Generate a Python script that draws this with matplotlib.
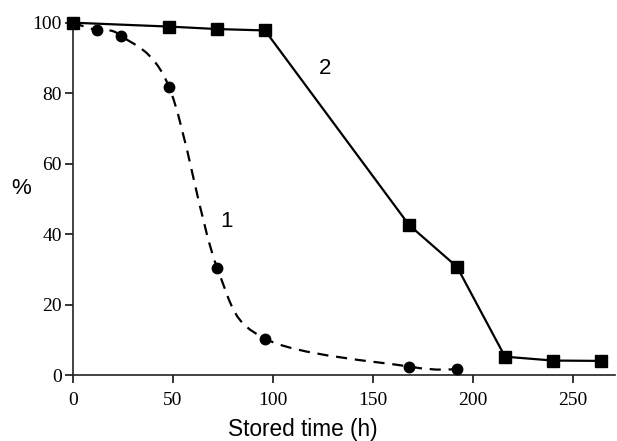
import matplotlib
matplotlib.use("Agg")
import matplotlib.pyplot as plt
import numpy as np
from matplotlib.path import Path
from matplotlib.patches import PathPatch

# series 1 (dashed, circles)
time_1 = [0, 12, 24, 48, 72, 96, 168, 192]
pct_1 = [100, 97.8, 96.3, 81.8, 30.5, 10.3, 2.4, 1.6]

# series 2 (solid, squares)
time_2 = [0, 48, 72, 96, 168, 192, 216, 240, 264]
pct_2 = [100, 98.9, 98.2, 97.8, 42.6, 30.7, 5.2, 4.1, 4.0]

x_ticks = [0, 50, 100, 150, 200, 250]
y_ticks = [0, 20, 40, 60, 80, 100]


def smooth_path(xs, ys):
    """Bezier path through the points (Excel-like smoothed line)."""
    pts = np.column_stack([xs, ys]).astype(float)
    verts = [pts[0]]
    codes = [Path.MOVETO]
    n = len(pts)
    for i in range(n - 1):
        p0 = pts[i - 1] if i > 0 else pts[i]
        p1 = pts[i]
        p2 = pts[i + 1]
        p3 = pts[i + 2] if i + 2 < n else pts[i + 1]
        c1 = p1 + (p2 - p0) / 6.0
        c2 = p2 - (p3 - p1) / 6.0
        verts += [c1, c2, p2]
        codes += [Path.CURVE4] * 3
    return Path(verts, codes)


fig = plt.figure(figsize=(6.17, 4.41), dpi=100)
ax = fig.add_axes([73 / 617, 1 - 375 / 441, (615 - 73) / 617, (375 - 22.7) / 441])

patch = PathPatch(smooth_path(time_1, pct_1), facecolor="none", edgecolor="black",
                  linewidth=1.6, linestyle=(0, (5, 3.5)), zorder=2)
ax.add_patch(patch)
ax.plot(time_1, pct_1, linestyle="none", marker="o", markersize=7.5, color="black", zorder=3)

ax.plot(time_2, pct_2, linestyle="-", linewidth=1.6, marker="s", markersize=8.5,
        color="black", zorder=3, clip_on=False)

ax.set_xlim(0, 271)
ax.set_ylim(0, 100)
ax.set_xticks(x_ticks)
ax.set_yticks(y_ticks)

for s in ["top", "right"]:
    ax.spines[s].set_visible(False)
for s in ["left", "bottom"]:
    ax.spines[s].set_linewidth(1.2)
    ax.spines[s].set_color("#222222")

ax.tick_params(direction="out", length=5.5, width=1.1, labelsize=14)
ax.tick_params(axis="x", pad=7)
ax.tick_params(axis="y", pad=2.5)
for lab in ax.get_xticklabels() + ax.get_yticklabels():
    lab.set_family("Liberation Serif")

ax.text(76.5, 43.5, "1", fontsize=16, family="Liberation Sans", ha="center", va="center")
ax.text(126, 87, "2", fontsize=16, family="Liberation Sans", ha="center", va="center")

fig.text(21 / 617, 1 - 189 / 441, "%", fontsize=16, family="Liberation Sans",
         ha="center", va="center")
fig.text(303 / 617, 1 - 429.5 / 441, "Stored time (h)", fontsize=16.3,
         family="Liberation Sans", ha="center", va="center")

fig.savefig("out.png", dpi=100)
